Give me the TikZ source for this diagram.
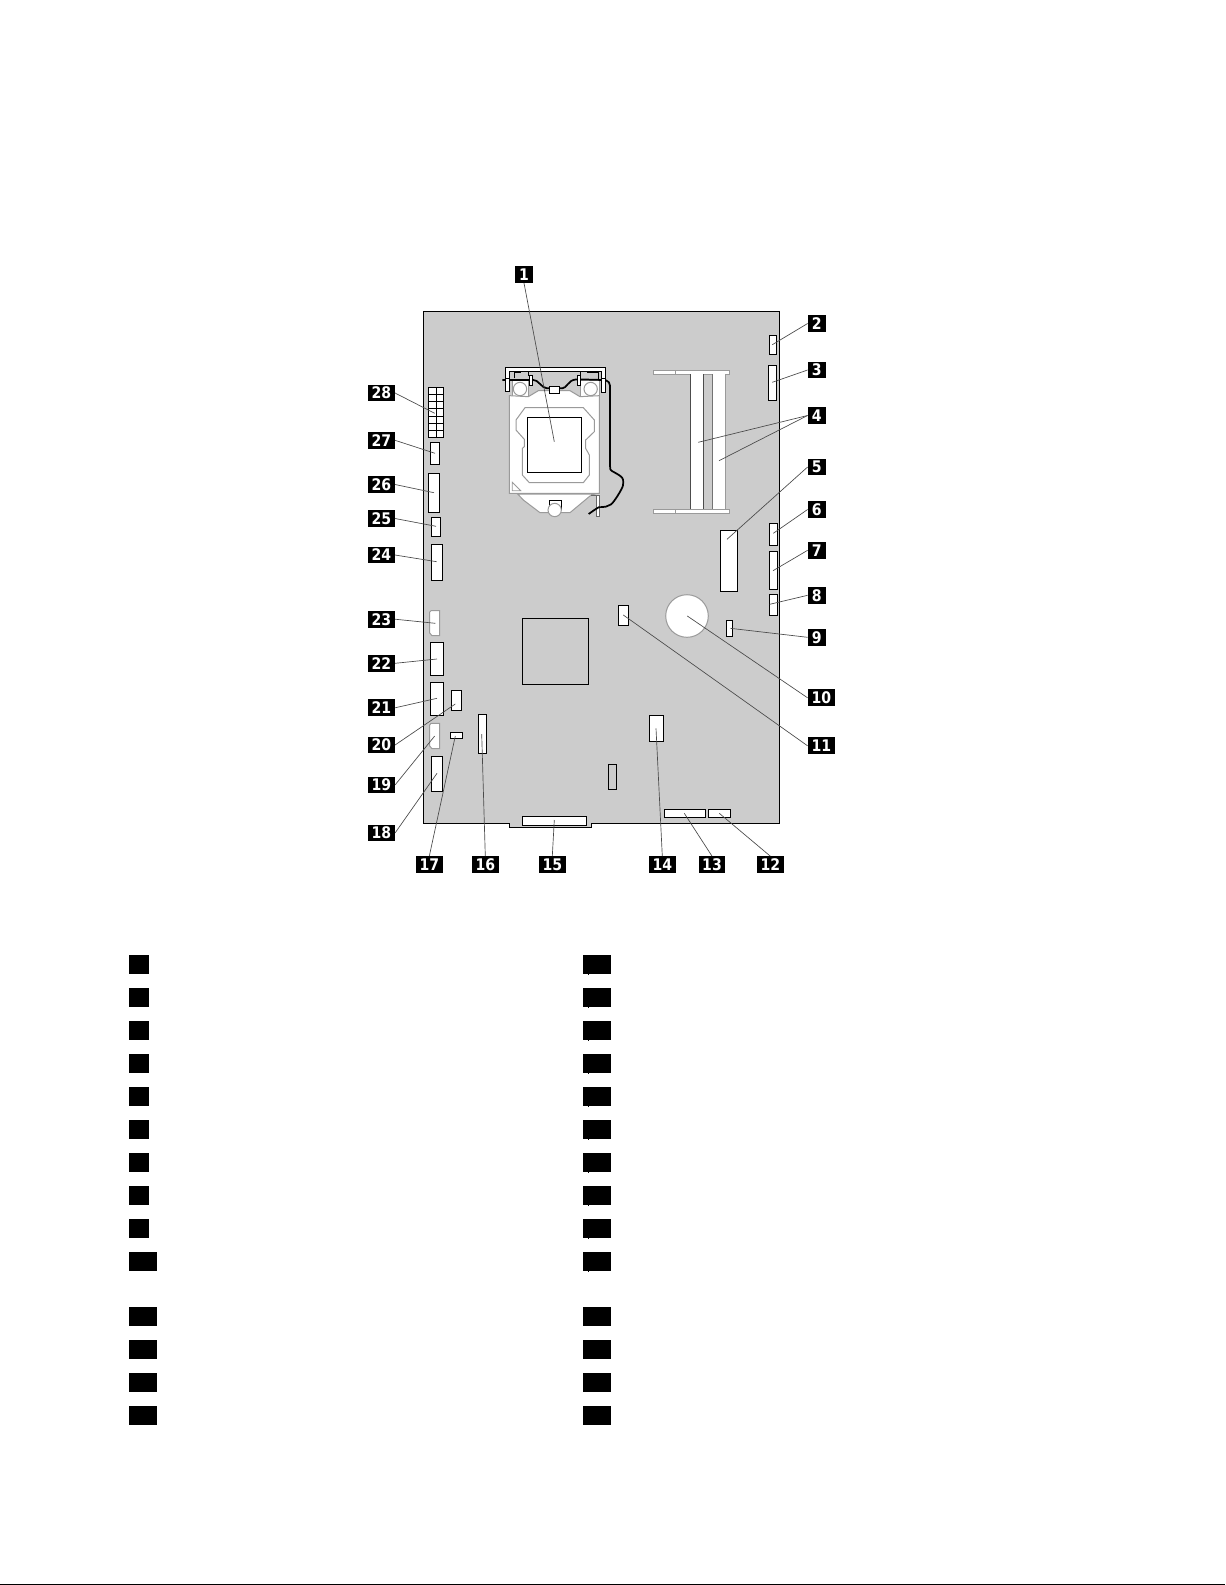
\documentclass[tikz,border=0pt]{standalone}
\usepackage{fontspec}
\newfontfamily\labfont[FakeStretch=0.88]{DejaVu Sans}
\definecolor{board}{HTML}{CCCCCC}
\definecolor{edge}{HTML}{9A9A9A}
\definecolor{leader}{HTML}{4A4A4A}
\tikzset{
  tag/.style={fill=black,text=white,inner sep=0pt,minimum height=12.6pt,font=\labfont\bfseries\fontsize{12}{12}\selectfont},
  tagone/.style={tag,minimum width=13.4pt},
  tagtwo/.style={tag,minimum width=20.2pt},
  keyone/.style={fill=black,inner sep=0pt,minimum width=15pt,minimum height=14.25pt},
  keytwo/.style={fill=black,inner sep=0pt,minimum width=21pt,minimum height=14.25pt},
  comp/.style={draw=black,fill=white,line width=.75pt},
  soft/.style={draw=edge,fill=white,line width=.75pt},
  lead/.style={draw=leader,line width=.5pt},
  pcb/.style={draw=black,fill=board,line width=.85pt},
  wire/.style={draw=black,line width=1.3pt,line join=round,rounded corners=2pt}
}
\begin{document}
\begin{tikzpicture}[x=.75pt,y=-.75pt]
\useasboundingbox (0,0) rectangle (1225,1585);
\fill[white] (0,0) rectangle (1225,1585);
% page rule
\fill[black] (0,1583.6) rectangle (1225,1585);
% board
\path[pcb] (423.5,311.7) -- (779.3,311.7) -- (779.3,823.3) -- (591.7,823.3) -- (591.7,827.3) -- (509.3,827.3) -- (509.3,823.3) -- (423.5,823.3) -- cycle;
% connectors blocks
\foreach \xa/\ya/\xb/\yb in {
  430.3/442.3/439.7/464.7, 428.3/473.3/439.7/512.7, 431.3/517.3/440.7/536.7, 431.3/544.3/442.7/580.7,
  430.3/642.3/443.7/675.7, 430.3/682.3/443.7/715.7, 451.3/690.3/461.7/710.7, 450.3/732.3/462.7/738.7,
  478.3/714.3/486.7/753.7, 431.3/756.3/442.7/791.7, 522.3/816.3/586.7/825.7,
  720.3/530.3/737.7/591.7, 769.3/523.3/777.7/545.3, 769.3/551.3/777.7/589.7, 769.3/594.3/777.7/615.7,
  726.3/620.3/732.7/636.7, 618.3/605.3/628.7/625.7, 649.3/715.3/663.7/741.7,
  664.3/809.3/705.7/817.7, 708.3/809.3/730.7/817.7, 769.3/335.3/776.7/354.7, 768.3/365/776.7/400.7}
  {\path[comp] (\xa,\ya) rectangle (\xb,\yb);}
% power connector grid
\path[comp] (428.3,387.3) rectangle (443.7,437.7);
\draw[black,line width=.6pt] (436,387.3) -- (436,437.7);
\foreach \g in {394.5,401.5,408.7,416,423,430.3}{\draw[black,line width=.6pt] (428.3,\g) -- (443.7,\g);}
% pale connectors
\path[soft] (431,610.7) -- (439.7,610.7) -- (439.7,635.7) -- (432,635.7) -- (429.7,633) -- (429.7,612) -- cycle;
\path[soft] (431,723.3) -- (439.7,723.3) -- (439.7,748.7) -- (432,748.7) -- (429.7,746) -- (429.7,725) -- cycle;
% chips on the board
\draw[black,line width=.75pt] (522.3,618.3) rectangle (588.7,684.7);
\draw[black,line width=.75pt] (608.3,764.3) rectangle (616.7,789.3);
% battery
\path[soft] (687,616) circle (21.3);
% memory slots
\path[soft] (653,370) rectangle (729.3,374);
\path[soft] (653,509) rectangle (729.3,513.3);
\draw[edge,line width=.5pt] (675.3,370) -- (675.3,374) (675.3,509) -- (675.3,513.3);
\fill[white] (690.3,374) rectangle (703.3,509);
\draw[black!70,line width=.6pt] (690.3,374) -- (690.3,509) (703.3,374) -- (703.3,509);
\fill[white] (712.3,374) rectangle (725.3,509);
\draw[black!55,line width=.6pt] (712.3,374) -- (712.3,509);
\draw[edge,line width=.7pt] (725.3,374) -- (725.3,509);
% CPU socket, in units of a third of a pixel
\begin{scope}[shift={(480,340)},x=.25pt,y=-.25pt]
  % bracket
  \path[comp] (77,155) -- (77,83) -- (377,83) -- (377,157) -- (365,157) -- (365,95) -- (89,95) -- (89,155) -- cycle;
  \draw[black,line width=.75pt] (145,107) -- (145,95) (302,107) -- (302,95);
  \draw[black,line width=1pt] (103,115) -- (103,97) -- (122,97) (321,97) -- (355,97) -- (355,120);
  % locating corners
  \path[soft] (97,122) rectangle (145,172);
  \path[soft] (300,122) rectangle (358,172);
  % plate
  \path[soft] (88,167) -- (145,170) -- (175,152) -- (270,152) -- (300,170) -- (358,167) -- (358,460) -- (88,460) -- cycle;
  \path[soft] (120,147) circle (20);
  \path[soft] (332,147) circle (20);
  % inner outline
  \path[soft] (108,240) -- (135,203) -- (310,203) -- (343,240) -- (343,275) -- (317,300) -- (317,325) -- (328,345) -- (328,405) -- (310,428) -- (148,428) -- (127,405) -- (127,325) -- (133,320) -- (133,298) -- (108,270) -- cycle;
  \path[comp] (142,232) rectangle (305,398);
  \path[draw=edge,line width=.6pt,fill=white] (97,427) -- (122,452) -- (97,452) -- cycle;
  % lever
  \path[soft] (113,462) -- (130,480) -- (180,518) -- (270,518) -- (330,468) -- (345,462) -- cycle;
  \draw[black,line width=.75pt,fill=white] (208,510) -- (208,482) -- (245,482) -- (245,510);
  \path[soft] (224,510) circle (20);
  \path[draw=black!60,fill=white,line width=.7pt] (333,465) -- (358,465) -- (358,530) -- (348,530) -- (348,465);
  % wire
  \draw[wire] (67,120) -- (150,120) .. controls (175,118) and (185,145) .. (209,145) -- (239,145) .. controls (260,145) and (265,120) .. (295,118) -- (370,120) .. controls (385,122) and (390,130) .. (390,145) -- (390,380) .. controls (392,395) and (428,405) .. (430,428) .. controls (428,445) and (400,490) .. (385,497) .. controls (370,503) and (360,500) .. (350,505) -- (326,522);
  \path[comp] (148,105) rectangle (158,135);
  \path[comp] (292,105) rectangle (302,135);
  \path[comp] (365,115) rectangle (377,157);
  \path[comp] (77,115) rectangle (89,155);
  \path[comp] (209,140) rectangle (239,160);
\end{scope}
% numbered callouts: one digit
\foreach \n/\x/\y/\tx/\ty/\a in {
  1/524/274.4/554.3/441.7/south,
  2/816.8/323.5/772.3/344.7/west,
  3/816.8/370/772.3/382.3/west,
  5/816.8/467/727/539.3/west,
  6/816.8/509.5/773.3/533.3/west,
  7/816.8/550.3/773/570.7/west,
  8/816.8/595.3/769.7/604.3/west,
  9/816.8/637.3/730.3/628.3/west}
  {\coordinate (T\n) at (\tx,\ty);
   \node[tagone] (L\n) at (\x,\y) {\n};
   \draw[lead] (L\n.\a) -- (T\n);}
% callout 4 has two targets
\node[tagone] (L4) at (816.8,415.5) {4};
\coordinate (T4a) at (698.3,442.3);
\coordinate (T4b) at (719,460.7);
\draw[lead] (L4.west) -- (T4a);
\draw[lead] (L4.west) -- (T4b);
% numbered callouts: two digits
\foreach \n/\x/\y/\tx/\ty/\a in {
  10/821.3/697.8/687.3/616/west,
  11/821.3/745.8/623.3/615/west,
  12/770.3/864.8/719.3/813.3/north,
  13/712/864.8/684.3/813.3/north,
  14/662.3/864.8/656/728.3/north,
  15/552.3/864.8/554.3/820/north,
  16/485.3/864.8/481.7/734/north,
  17/429.3/864.8/455.3/736/north,
  18/381.3/833/437/773.3/east,
  19/381.3/785/434.7/736/east,
  20/381.3/745/455.3/704/east,
  21/381.3/707.8/437/698.3/east,
  22/381.3/663.3/437/659/east,
  23/381.3/619.2/435.3/623.3/east,
  24/381.3/555/436.7/561.7/east,
  25/381.3/518.5/436/526.3/east,
  26/381.3/484.5/434/492.7/east,
  27/381.3/440.3/435/453.3/east,
  28/381.3/393/434.7/413.3/east}
  {\coordinate (T\n) at (\tx,\ty);
   \node[tagtwo] (L\n) at (\x,\y) {\n};
   \draw[lead] (L\n.\a) -- (T\n);}
% key below the picture: blank black markers
\foreach \i/\y in {1/964.5,2/997.5,3/1030.5,4/1063.5,5/1096.5,6/1129.5,7/1162.5,8/1195.5,9/1228.5}
  {\node[keyone] (K\i) at (139,\y) {};}
\foreach \i/\y in {10/1261.5,11/1316.5,12/1349.5,13/1382.5,14/1415.5}
  {\node[keytwo] (K\i) at (143,\y) {};}
\foreach \i/\y in {15/964.5,16/997.5,17/1030.5,18/1063.5,19/1096.5,20/1129.5,21/1162.5,22/1195.5,23/1228.5,24/1261.5}
  {\node[keytwo] (K\i) at (597,\y) {};
   \fill[black] (588.4,\y+9) rectangle (589.2,\y+10.5);}
\foreach \i/\y in {25/1316.5,26/1349.5,27/1382.5,28/1415.5}
  {\node[keytwo] (K\i) at (597,\y) {};}
\end{tikzpicture}
\end{document}
